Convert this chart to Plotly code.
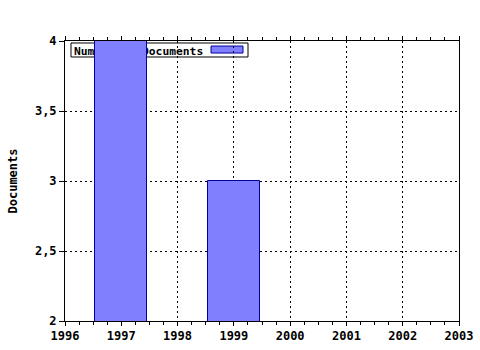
import plotly.graph_objects as go

years = [1997, 1999]
documents = [4, 3]
series_name = "Number of Documents"
y_title = "Documents"
x_ticks = [1996, 1997, 1998, 1999, 2000, 2001, 2002, 2003]
y_ticks = [2, 2.5, 3, 3.5, 4]
y_ticklabels = ["2", "2,5", "3", "3,5", "4"]

FONT = "DejaVu Sans Mono"
FS = 12
BAR_FILL = "#8080ff"
BAR_LINE = "#0000a0"

fig = go.Figure()
fig.add_trace(go.Bar(
    x=years, y=documents, name=series_name, width=0.92,
    marker=dict(color=BAR_FILL, line=dict(color=BAR_LINE, width=1)),
    showlegend=False,
))

fig.update_layout(
    width=480, height=350,
    margin=dict(l=65, r=21, t=41, b=29, autoexpand=False),
    paper_bgcolor="white", plot_bgcolor="white",
    font=dict(family=FONT, size=FS, color="black", weight="bold"),
    xaxis=dict(
        range=[1996, 2003], tickvals=x_ticks, ticktext=[str(v) for v in x_ticks],
        showgrid=True, gridcolor="black", griddash="2px,3px", gridwidth=1,
        ticks="outside", ticklen=4, tickcolor="black",
        minor=dict(dtick=0.25, ticks="outside", ticklen=3, tickcolor="black", showgrid=False),
        showline=True, linecolor="black", linewidth=1, mirror="ticks",
        tickfont=dict(family=FONT, size=FS, weight="bold"), zeroline=False,
        automargin=False,
    ),
    yaxis=dict(
        range=[2, 4], tickvals=y_ticks, ticktext=y_ticklabels,
        showgrid=True, gridcolor="black", griddash="2px,3px", gridwidth=1,
        ticks="outside", ticklen=5, tickcolor="black",
        showline=True, linecolor="black", linewidth=1, mirror=True,
        tickfont=dict(family=FONT, size=FS, weight="bold"), zeroline=False,
        title=dict(text=y_title, font=dict(family=FONT, size=FS, weight="bold"), standoff=14),
        automargin=False,
    ),
    bargap=0,
)

# legend drawn beneath the bars (as in the reference)
fig.add_shape(type="rect", xref="paper", yref="paper",
              x0=0.0152, x1=0.4645, y0=0.9429, y1=0.9929,
              fillcolor="white", line=dict(color="black", width=1), layer="between",
              label=dict(text=series_name, textposition="middle left",
                         font=dict(family=FONT, size=11.3, color="black", weight="bold"), padding=0))
fig.add_shape(type="rect", xref="paper", yref="paper",
              x0=0.3706, x1=0.4518, y0=0.957, y1=0.982,
              fillcolor=BAR_FILL, line=dict(color=BAR_LINE, width=1), layer="between")

fig.write_html("out.html")
